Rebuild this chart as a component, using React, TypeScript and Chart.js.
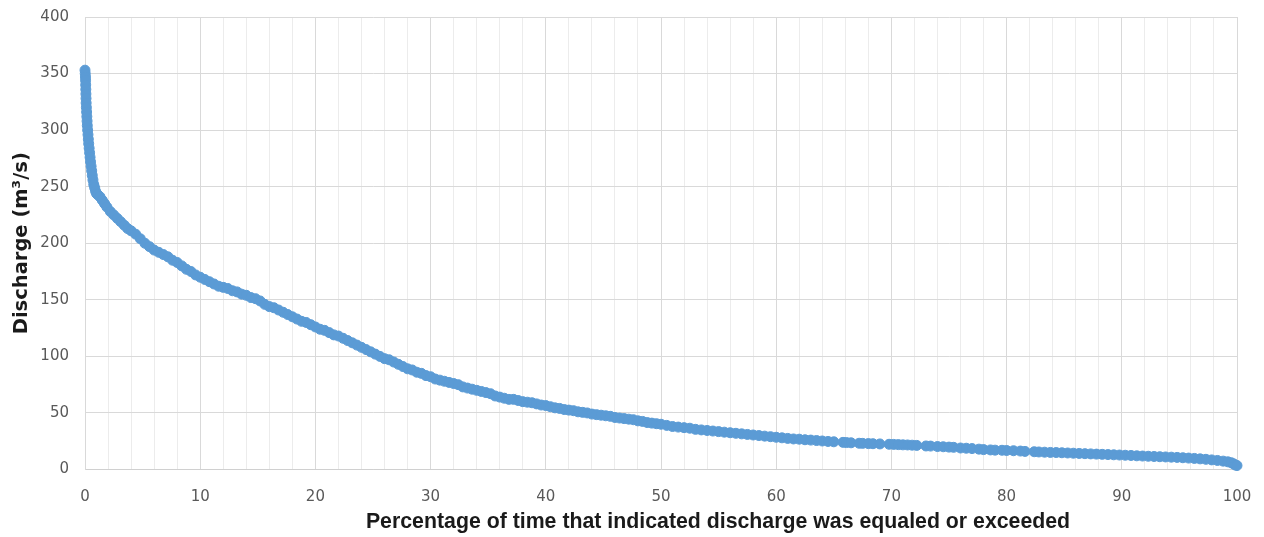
import React, { useEffect, useRef } from "react";
import { Chart, registerables } from "chart.js";

Chart.register(...registerables);

// Percentage of time that indicated discharge was equaled or exceeded
const percentTime: number[] = [
  0.0, 0.02, 0.04, 0.05, 0.06, 0.07, 0.08, 0.09, 0.1, 0.12, 0.14, 0.16, 0.18, 0.2, 0.23, 0.26, 0.29, 0.32, 0.36, 0.4,
  0.44, 0.48, 0.53, 0.58, 0.63, 0.69, 0.76, 0.84, 0.92, 1.0, 1.1, 1.3, 1.5, 1.7, 1.9, 2.2, 2.5, 2.8, 3.1, 3.4,
  3.7, 4.0, 4.4, 4.8, 5.2, 5.6, 6.0, 6.4, 6.8, 7.2, 7.6, 8.0, 8.4, 8.8, 9.2, 9.6, 10.0, 10.4, 10.8, 11.2,
  11.6, 12.0, 12.4, 12.8, 13.2, 13.6, 14.0, 14.4, 14.8, 15.2, 15.6, 16.0, 16.4, 16.8, 17.2, 17.6, 18.0, 18.4, 18.8, 19.2,
  19.6, 20.0, 20.4, 20.8, 21.2, 21.6, 22.0, 22.4, 22.8, 23.2, 23.6, 24.0, 24.4, 24.8, 25.2, 25.6, 26.0, 26.4, 26.8, 27.2,
  27.6, 28.0, 28.4, 28.8, 29.2, 29.6, 30.0, 30.4, 30.8, 31.2, 31.6, 32.0, 32.4, 32.8, 33.2, 33.6, 34.0, 34.4, 34.8, 35.2,
  35.6, 36.0, 36.4, 36.8, 37.2, 37.6, 38.0, 38.4, 38.8, 39.2, 39.6, 40.0, 40.4, 40.8, 41.2, 41.6, 42.0, 42.4, 42.8, 43.2,
  43.6, 44.0, 44.4, 44.8, 45.2, 45.6, 46.0, 46.4, 46.8, 47.2, 47.6, 48.0, 48.4, 48.8, 49.2, 49.6, 50.0, 50.5, 51.0, 51.5,
  52.0, 52.5, 53.0, 53.5, 54.0, 54.5, 55.0, 55.5, 56.0, 56.5, 57.0, 57.5, 58.0, 58.5, 59.0, 59.5, 60.0, 60.5, 61.0, 61.5,
  62.0, 62.5, 63.0, 63.5, 64.0, 64.5, 65.0, 65.8, 66.1, 66.5, 67.2, 67.5, 68.0, 68.4, 69.0, 69.8, 70.2, 70.6, 71.0, 71.4,
  71.8, 72.2, 73.0, 73.4, 74.0, 74.5, 75.0, 75.4, 76.0, 76.5, 77.0, 77.6, 78.0, 78.6, 79.0, 79.6, 80.0, 80.6, 81.2, 81.6,
  82.4, 82.8, 83.3, 83.8, 84.3, 84.8, 85.3, 85.8, 86.3, 86.8, 87.3, 87.8, 88.3, 88.8, 89.3, 89.8, 90.3, 90.8, 91.3, 91.8,
  92.3, 92.8, 93.3, 93.8, 94.3, 94.8, 95.3, 95.8, 96.3, 96.8, 97.3, 97.8, 98.3, 98.8, 99.2, 99.5, 99.7, 99.85, 100.0,
];

// Discharge (m3/s)
const discharge: number[] = [
  353, 350, 347, 344, 340, 336, 332, 328, 324, 320, 316, 312, 308, 304, 300, 296, 292, 288, 284, 280,
  276, 272, 268, 264, 260, 256, 252, 249, 246, 244, 243, 241, 238, 235, 232, 228, 225, 222, 219, 216,
  213, 211, 208, 204, 200, 197, 194, 192, 190, 188, 185, 183, 180, 177, 175, 172, 170, 168, 166, 164,
  162, 161, 160, 158, 157, 155, 154, 152, 151, 149, 146, 144, 143, 141, 139, 137, 135, 133, 131, 130,
  128, 126, 124, 123, 121, 119, 118, 116, 114, 112, 110, 108, 106, 104, 102, 100, 98, 97, 95, 93,
  91, 89, 88, 86, 85, 83, 82, 80, 79, 78, 77, 76, 75, 73, 72, 71, 70, 69, 68, 67,
  65, 64, 63, 62, 62, 61, 60, 59.5, 59, 58, 57, 56.5, 55.5, 54.5, 54, 53, 52.5, 52, 51, 50.5,
  50, 49, 48.5, 48, 47.5, 47, 46, 45.5, 45, 44.5, 44, 43, 42.5, 41.5, 41, 40.5, 40, 39, 38, 37.5,
  37, 36.5, 35.5, 35, 34.5, 34, 33.5, 33, 32.5, 32, 31.5, 31, 30.5, 30, 29.5, 29, 28.5, 28, 27.5, 27,
  26.8, 26.3, 26, 25.6, 25.2, 24.8, 24.5, 24, 23.8, 23.6, 23.2, 23.1, 22.9, 22.8, 22.6, 22.3, 22.2, 22.0, 21.8, 21.7,
  21.5, 21.3, 20.8, 20.7, 20.3, 20.1, 19.8, 19.6, 19.0, 18.8, 18.5, 18.0, 17.6, 17.3, 17.1, 17.0, 16.8, 16.6, 16.3, 16.0,
  15.7, 15.5, 15.3, 15.1, 15.0, 14.8, 14.6, 14.4, 14.2, 14.0, 13.8, 13.6, 13.4, 13.2, 13.0, 12.8, 12.6, 12.4, 12.1, 11.9,
  11.7, 11.5, 11.3, 11.1, 10.9, 10.7, 10.4, 10.1, 9.8, 9.4, 9.0, 8.5, 8.0, 7.4, 6.8, 6.0, 5.0, 4.0, 3.5,
];

const xTitle = "Percentage of time that indicated discharge was equaled or exceeded";
const yTitle = "Discharge (m\u00B3/s)";

const xTitlePlugin = {
  id: "xTitleOffset",
  afterDraw(chart: any) {
    const { ctx, chartArea } = chart;
    ctx.save();
    ctx.font = "bold 21.3px 'Liberation Sans'";
    ctx.fillStyle = "#1a1a1a";
    ctx.textAlign = "center";
    ctx.textBaseline = "middle";
    const cx = chartArea.left + (chartArea.right - chartArea.left) * 0.5495;
    ctx.fillText(xTitle, cx, chartArea.bottom + 53);
    ctx.restore();
  },
};

export default function App() {
  const canvasRef = useRef<HTMLCanvasElement | null>(null);

  useEffect(() => {
    document.body.style.margin = "0";
    const canvas = canvasRef.current;
    if (!canvas) return;
    const points = percentTime.map((x, i) => ({ x, y: discharge[i] }));
    const chart = new Chart(canvas, {
      type: "scatter",
      data: {
        datasets: [
          {
            data: points,
            backgroundColor: "#5b9bd5",
            borderColor: "#5b9bd5",
            borderWidth: 1,
            pointRadius: 5,
            clip: false as any,
          },
        ],
      },
      plugins: [xTitlePlugin],
      options: {
        animation: false,
        responsive: false,
        maintainAspectRatio: false,
        layout: { padding: { left: 0, right: 27, top: 17, bottom: 0 } },
        plugins: { legend: { display: false }, tooltip: { enabled: false } },
        scales: {
          x: {
            type: "linear",
            min: 0,
            max: 100,
            afterFit: (s: any) => {
              s.height = 67.5;
              s.paddingLeft = 0;
              s.paddingRight = 0;
            },
            ticks: {
              stepSize: 2,
              maxTicksLimit: 200,
              autoSkip: false,
              maxRotation: 0,
              padding: 19,
              color: "#595959",
              font: { family: "DejaVu Sans", size: 15 },
              callback: (v: any) => (Number(v) % 10 === 0 ? String(v) : ""),
            },
            grid: {
              drawTicks: false,
              color: (ctx: any) => (ctx.tick && ctx.tick.value % 10 === 0 ? "#d9d9d9" : "#ececec"),
              lineWidth: 1,
            },
            border: { color: "#d0d0d0" },
            title: { display: false },
          },
          y: {
            type: "linear",
            min: 0,
            max: 400,
            afterFit: (s: any) => {
              s.width = 85;
              s.paddingTop = 0;
              s.paddingBottom = 0;
            },
            ticks: {
              stepSize: 50,
              padding: 16,
              color: "#595959",
              font: { family: "DejaVu Sans", size: 15 },
            },
            grid: { drawTicks: false, color: "#d9d9d9", lineWidth: 1 },
            border: { color: "#d9d9d9" },
            title: {
              display: true,
              text: yTitle,
              color: "#1a1a1a",
              font: { family: "DejaVu Sans", size: 19.5, weight: "bold" },
              padding: { top: 10, bottom: 0 },
            },
          },
        },
      },
    });
    return () => chart.destroy();
  }, []);

  return (
    <div style={{ position: "fixed", left: 0, top: 0, width: 1264, height: 537, background: "#ffffff" }}>
      <canvas ref={canvasRef} width={1264} height={537} style={{ width: 1264, height: 537 }} />
    </div>
  );
}
